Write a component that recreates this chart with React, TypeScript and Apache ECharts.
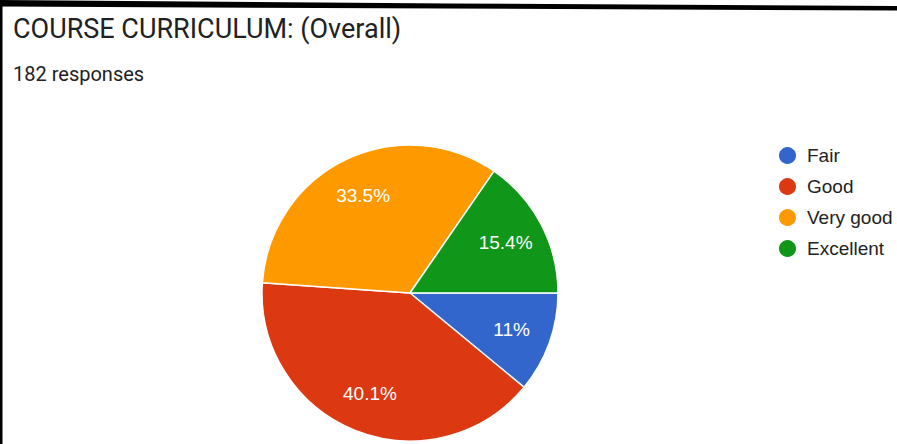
import React, { useEffect, useRef } from "react";
import * as echarts from "echarts";

const categories = ["Fair", "Good", "Very good", "Excellent"];
const responses = [20, 73, 61, 28];
const colors = ["#3366cc", "#dc3912", "#ff9900", "#109618"];
const titleText = "COURSE CURRICULUM: (Overall)";
const subtitleText = "182 responses";

export default function App() {
  const ref = useRef<HTMLDivElement>(null);
  useEffect(() => {
    if (!ref.current) return;
    const chart = echarts.init(ref.current, null, { renderer: "svg" });
    const total = responses.reduce((a, b) => a + b, 0);
    const data = categories.map((name, i) => ({ name, value: responses[i], itemStyle: { color: colors[i] } }));
    const fmt = (p: any) => {
      let s = ((p.value / total) * 100).toFixed(1);
      if (s.endsWith(".0")) s = s.slice(0, -2);
      return s + "%";
    };
    chart.setOption({
      animation: false,
      backgroundColor: "#ffffff",
      title: {
        text: titleText,
        subtext: subtitleText,
        left: 8,
        top: 10,
        itemGap: 22,
        textStyle: { fontFamily: "Roboto", fontSize: 27, fontWeight: "normal", color: "#202124" },
        subtextStyle: { fontFamily: "Roboto", fontSize: 20, color: "#202124" },
      },
      legend: {
        orient: "vertical",
        left: 777,
        top: 145,
        padding: 0,
        itemWidth: 19,
        itemHeight: 19,
        itemGap: 10,
        icon: "circle",
        data: categories,
        textStyle: { fontFamily: "Liberation Sans", fontSize: 19, color: "#222222", padding: [0, 0, 0, 5] },
      },
      graphic: [
        {
          type: "polygon",
          shape: { points: [[0, 0], [897, 0], [897, 10.5], [0, 6.5]] },
          style: { fill: "#000000" },
          silent: true,
        },
        {
          type: "polygon",
          shape: { points: [[0, 0], [897, 0], [897, 6], [450, 3.5]] },
          style: { fill: "#ffffff" },
          silent: true,
          z: 101,
        },
        {
          type: "rect",
          shape: { x: 0, y: 0, width: 2.5, height: 444 },
          style: { fill: "#000000" },
          silent: true,
          z: 102,
        },
      ],
      series: [
        {
          type: "pie",
          center: [410, 293],
          radius: [0, 148],
          startAngle: 0,
          clockwise: true,
          data,
          label: { show: false },
          labelLine: { show: false },
          itemStyle: { borderColor: "#ffffff", borderWidth: 1.5 },
          emphasis: { disabled: true },
        },
        {
          type: "pie",
          center: [410, 293],
          radius: [62, 148],
          startAngle: 0,
          clockwise: true,
          data: categories.map((name, i) => ({ name, value: responses[i], itemStyle: { color: "rgba(0,0,0,0)" } })),
          silent: true,
          legendHoverLink: false,
          label: {
            show: true,
            position: "inside",
            formatter: fmt,
            color: "#ffffff",
            fontFamily: "Liberation Sans",
            fontSize: 19,
          },
          labelLine: { show: false },
          emphasis: { disabled: true },
        },
      ],
    });
    return () => chart.dispose();
  }, []);
  return <div ref={ref} style={{ width: 897, height: 444, position: "absolute", left: 0, top: 0 }} />;
}
